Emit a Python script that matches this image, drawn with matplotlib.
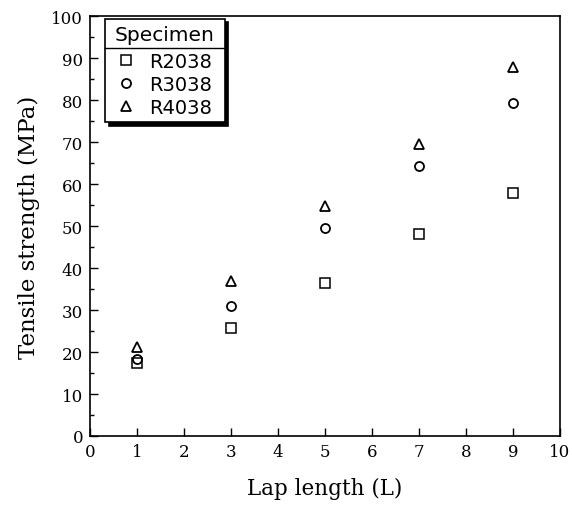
import matplotlib
matplotlib.use("Agg")
import matplotlib.pyplot as plt
from matplotlib.lines import Line2D

lap_length = [1, 3, 5, 7, 9]
r2038 = [17.5, 25.7, 36.4, 48.1, 57.9]
r3038 = [18.3, 31.0, 49.6, 64.4, 79.3]
r4038 = [21.1, 37.0, 54.8, 69.5, 87.8]
series_names = ["R2038", "R3038", "R4038"]
x_ticks = list(range(0, 11))
y_ticks = list(range(0, 101, 10))

fig = plt.figure(figsize=(5.72, 5.06), dpi=100)
ax = fig.add_axes([90/572, 1-437/506, 470/572, 420/506])

serif = "DejaVu Serif"
ms = 6.5
ax.plot(lap_length, r2038, ls="none", marker="s", mfc="none", mec="black", mew=1.1, ms=ms, label=series_names[0])
ax.plot(lap_length, r3038, ls="none", marker="o", mfc="none", mec="black", mew=1.3, ms=ms, label=series_names[1])
ax.plot(lap_length, r4038, ls="none", marker="^", mfc="none", mec="black", mew=1.3, ms=ms, label=series_names[2])

ax.set_xlim(0, 10)
ax.set_ylim(0, 100)
ax.set_xticks(x_ticks)
ax.set_yticks(y_ticks)
ax.set_yticks(range(5, 100, 10), minor=True)
ax.tick_params(axis="both", which="major", direction="in", length=6, width=1, labelsize=12)
ax.tick_params(axis="y", which="minor", direction="in", length=3, width=1)
ax.tick_params(axis="x", which="major", pad=5)
ax.tick_params(axis="y", which="major", pad=5)
for lab in ax.get_xticklabels() + ax.get_yticklabels():
    lab.set_family(serif)
for s in ax.spines.values():
    s.set_linewidth(1.2)

ax.set_xlabel("Lap length (L)", family=serif, fontsize=15.5, labelpad=12)
ax.set_ylabel("Tensile strength (MPa)", family=serif, fontsize=16.5, labelpad=8)

leg = ax.legend(title="Specimen", loc="upper left", bbox_to_anchor=(0.032, 0.993, 0.255, 0),
                mode="expand", borderaxespad=0, markerscale=1.0,
                frameon=True, fancybox=False, shadow={"color": "black", "alpha": 1, "ox": 2.5, "oy": -2.5},
                edgecolor="black", framealpha=1, fontsize=14, title_fontsize=14.5,
                handletextpad=0.35, handlelength=1.6, borderpad=0.3, labelspacing=0.2)
leg.get_frame().set_linewidth(1.2)
for t in leg.get_texts():
    t.set_family("DejaVu Sans")
leg.get_title().set_family("DejaVu Sans")
leg._legend_box.sep += 3

fig.canvas.draw()
r = fig.canvas.get_renderer()
fb = leg.get_frame().get_window_extent(r)
tb = leg.get_title().get_window_extent(r)
yline = tb.y0 - 4.5
inv = fig.transFigure.inverted()
(x0, y0) = inv.transform((fb.x0, yline))
(x1, _) = inv.transform((fb.x1, yline))
fig.add_artist(Line2D([x0, x1], [y0, y0], color="black", lw=1.0, transform=fig.transFigure, zorder=10))

fig.savefig("out.png", dpi=100)
